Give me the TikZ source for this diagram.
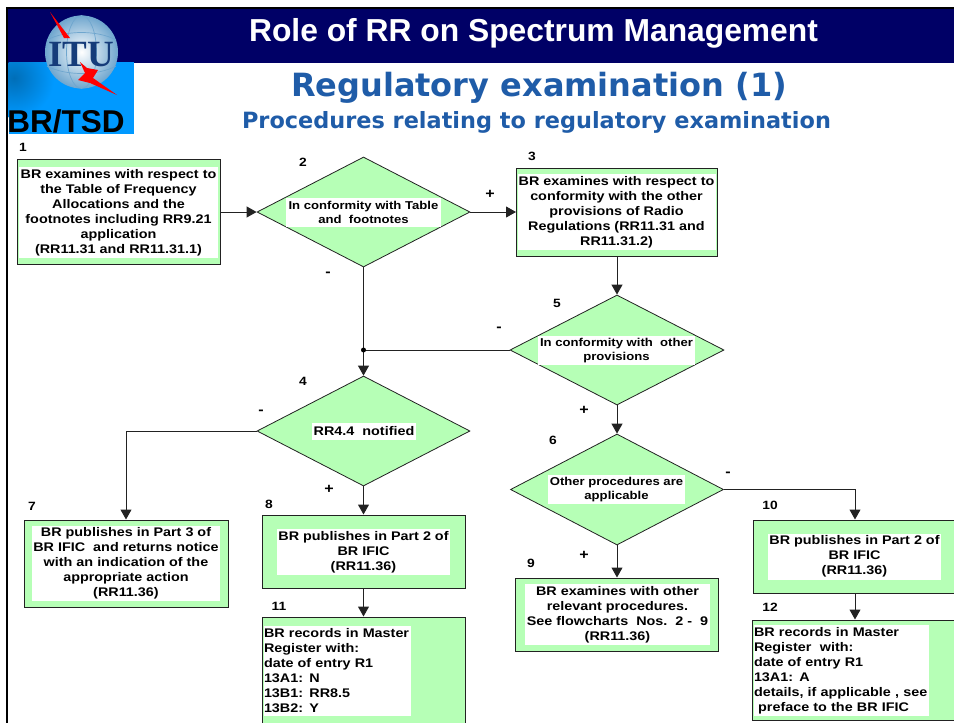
\documentclass[tikz,border=0pt]{standalone}
\usepackage{xcolor}
\usepackage{fontspec}
\setmainfont{Liberation Sans}
\newfontfamily\headfont{DejaVu Sans}
\newfontfamily\bodyfont[FakeStretch=1.15]{Liberation Sans}
\newfontfamily\logofont{Liberation Serif}
\usetikzlibrary{positioning}
\usetikzlibrary{calc}
\usetikzlibrary{shapes.geometric}
\usetikzlibrary{arrows.meta}
\definecolor{boxgreen}{HTML}{B6FFB6}
\definecolor{headnavy}{HTML}{000066}
\definecolor{skyblue}{HTML}{0099FF}
\definecolor{titleblue}{HTML}{1F5CA8}
\definecolor{linegrey}{HTML}{222222}
\definecolor{globeblue}{HTML}{6FA6CE}
\definecolor{logoblue}{HTML}{163C7A}
\begin{document}
\begin{tikzpicture}
    [x=1pt,y=-1pt,
        box/.style={rectangle,draw=linegrey,fill=boxgreen,line width=1pt,inner sep=0pt},
        decision/.style={diamond,draw=linegrey,fill=boxgreen,line width=0.8pt,inner sep=0pt},
        paper/.style={rectangle,fill=white,inner sep=0pt,align=center,font=\fontsize{12.5}{15}\bodyfont\bfseries},
        smallpaper/.style={paper,font=\fontsize{11.4}{14}\bodyfont\bfseries},
        leftpaper/.style={paper,align=left},
        num/.style={inner sep=0pt,font=\fontsize{12}{13}\bodyfont\bfseries},
        sign/.style={inner sep=0pt,font=\fontsize{14}{14}\bodyfont\bfseries},
        flow/.style={-{Triangle[length=10pt,width=11pt]},line width=1pt,draw=linegrey}
    ]
\useasboundingbox (0,0) rectangle (954,723);
\clip (0,0) rectangle (954,723);

% header
\fill[headnavy] (8,9) rectangle (954,63);
\draw[black,line width=2.5pt] (7,723) -- (7,8) -- (954,8);
\fill[skyblue] (8.5,62) rectangle (134,134);
\begin{scope}
\clip (8.5,62) rectangle (134,134);
\shade[inner color=skyblue!72!black,outer color=skyblue] (14,78) circle (40);
\end{scope}
\node[inner sep=0pt,text=white,font=\fontsize{31.8}{33}\selectfont\bfseries] (title) at (533.5,33) {Role of RR on Spectrum Management};
\node[inner sep=0pt,text=titleblue,font=\fontsize{32}{33}\headfont\bfseries] (subtitle) at (539,88) {Regulatory examination (1)};
\node[inner sep=0pt,text=titleblue,font=\fontsize{22.4}{25}\headfont\bfseries] (subsub) at (536.5,122) {Procedures relating to regulatory examination};

% logo
\shade[inner color=white,outer color=globeblue] (81.5,52) circle (36.5);
\draw[globeblue,line width=0.7pt] (81.5,52) ellipse (15 and 36.5);
\draw[globeblue,line width=0.7pt] (47,40) .. controls (65,30) and (98,30) .. (116,40);
\draw[globeblue,line width=0.7pt] (47,66) .. controls (65,76) and (98,76) .. (116,66);
\fill[red] (50,12) -- (70,38) -- (64,38) -- cycle;
\node[inner sep=0pt,text=logoblue,font=\fontsize{37}{37}\logofont\bfseries] (logotext) at (81.5,55) {ITU};
\fill[red] (80,62) -- (87,68) -- (98,70) -- (93,78) -- (117,95) -- (90,83) -- (78,80) -- (85,73) -- cycle;
\node[inner sep=0pt,font=\fontsize{31.5}{35}\selectfont\bfseries] (office) at (66,121) {BR/TSD};

% boxes
\node[box,minimum width=203,minimum height=105] (b1) at (118.5,211.5) {};
\node[decision,minimum width=213,minimum height=110] (d2) at (363.5,212) {};
\node[box,minimum width=201,minimum height=88] (b3) at (617,212) {};
\node[decision,minimum width=214,minimum height=110] (d5) at (617,350) {};
\node[decision,minimum width=213,minimum height=110] (d4) at (363.5,431) {};
\node[decision,minimum width=213,minimum height=111] (d6) at (617,489.5) {};
\node[box,minimum width=204,minimum height=87] (b7) at (126,563.5) {};
\node[box,minimum width=203,minimum height=73] (b8) at (363.5,551.5) {};
\node[box,minimum width=203,minimum height=120] (b11) at (363.5,677) {};
\node[box,minimum width=203,minimum height=73] (b9) at (617,614.5) {};
\node[box,minimum width=204,minimum height=73] (b10) at (855,556.5) {};
\node[box,minimum width=206,minimum height=100] (b12) at (855,670) {};

% texts
\node[paper,minimum width=199,minimum height=91] at (118.5,212.5) {BR examines with respect to\\the Table of Frequency\\Allocations and the\\footnotes including RR9.21\\application\\(RR11.31 and RR11.31.1)};
\node[smallpaper,minimum width=155,minimum height=29] at (363.5,212.5) {In conformity with Table\\and~~footnotes};
\node[paper,minimum width=198,minimum height=76] at (616.5,212) {BR examines with respect to\\conformity with the other\\provisions of Radio\\Regulations (RR11.31 and\\RR11.31.2)};
\node[smallpaper,minimum width=157,minimum height=29] at (616.5,350.5) {In conformity with~~other\\provisions};
\node[paper,minimum width=104,minimum height=17] at (364,431) {RR4.4~~notified};
\node[smallpaper,minimum width=137,minimum height=29] at (616.5,489.5) {Other procedures are\\applicable};
\node[paper,minimum width=188,minimum height=75] at (126,563.5) {BR publishes in Part 3 of\\BR IFIC~~and returns notice\\with an indication of the\\appropriate action\\(RR11.36)};
\node[paper,minimum width=173,minimum height=46] at (363.5,552) {BR publishes in Part 2 of\\BR IFIC\\(RR11.36)};
\node[leftpaper,minimum height=90,text width=147] at (337.5,671) {BR records in Master\\Register with:\\date of entry R1\\13A1: N\\13B1: RR8.5\\13B2: Y};
\node[paper,minimum width=185,minimum height=61] at (617.5,614.5) {BR examines with other\\relevant procedures.\\See flowcharts~~Nos.~~2 -~~9\\(RR11.36)};
\node[paper,minimum width=173,minimum height=46] at (854.5,556.5) {BR publishes in Part 2 of\\BR IFIC\\(RR11.36)};
\node[leftpaper,minimum height=91,text width=175] at (841.5,670.5) {BR records in Master\\Register~~with:\\date of entry R1\\13A1: A\\details, if applicable , see\\~preface to the BR IFIC};

% numbers
\node[num] at (23,147) {1};
\node[num] at (303,162) {2};
\node[num] at (532,156) {3};
\node[num] at (557,303) {5};
\node[num] at (303,381) {4};
\node[num] at (553,440) {6};
\node[num] at (32,506) {7};
\node[num] at (269,504) {8};
\node[num] at (531,563) {9};
\node[num] at (770,505) {10};
\node[num] at (279,606) {11};
\node[num] at (770,607) {12};

% signs
\node[sign] at (490,194) {+};
\node[sign] at (328,274) {-};
\node[sign] at (499,329) {-};
\node[sign] at (261,412) {-};
\node[sign] at (584,410) {+};
\node[sign] at (329,489) {+};
\node[sign] at (728,474) {-};
\node[sign] at (584,555) {+};

% connectors
\coordinate (join) at (d2.south |- d5.west);
\draw[flow] (b1.east |- d2.west) -- (d2.west);
\draw[flow] (d2.east) -- (b3.west);
\draw[flow] (d2.south) -- (d4.north);
\draw[flow] (b3.south) -- (d5.north);
\draw[linegrey,line width=1pt] (d5.west) -- (join);
\fill[black] (join) circle (2.5);
\draw[flow] (d5.south) -- (d6.north);
\draw[flow] (d4.west) -| (b7.north);
\draw[flow] (d4.south) -- (b8.north);
\draw[flow] (b8.south) -- (b11.north);
\draw[flow] (d6.south) -- (b9.north);
\draw[flow] (d6.east) -| (b10.north);
\draw[flow] (b10.south) -- (b12.north);

\end{tikzpicture}
\end{document}
